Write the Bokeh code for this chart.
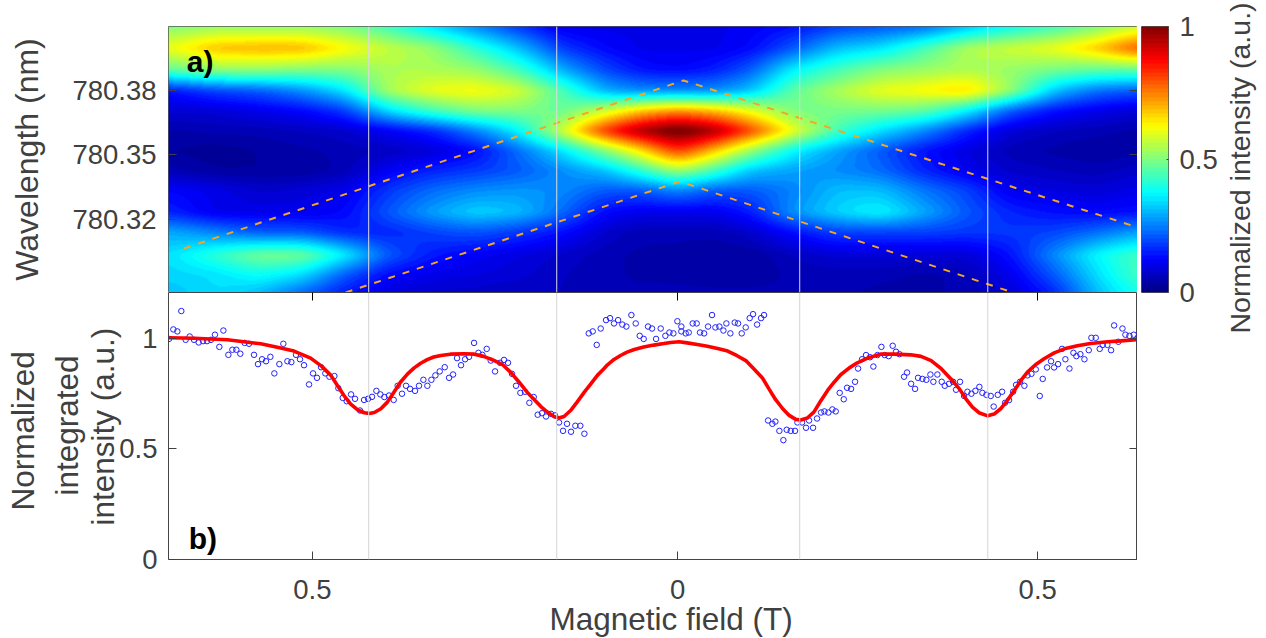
import numpy as np
from bokeh.embed import file_html
from bokeh.resources import INLINE
from bokeh.layouts import column, row
from bokeh.plotting import figure
from bokeh.models import (Label, LinearColorMapper, LinearAxis, FixedTicker, Span, Range1d, Title)

FONT = "Liberation Sans"
TXT = "#404040"

# ---- panel a: intensity
map_field = [-0.703,-0.64,-0.58,-0.52,-0.46,-0.40,-0.34,-0.28,-0.22,-0.16,-0.10,-0.05,0.0,0.05,0.10,0.16,0.22,0.28,0.34,0.40,0.46,0.52,0.58,0.635]
map_wavelength = [780.4098,780.400,780.390,780.380,780.3707,780.3614,780.352,780.3428,780.3335,780.3233,780.314,780.3033,780.294,780.286]
map_r00 = [.48,.50,.50,.50,.48,.42,.33,.25,.17,.10,.10,.10,.10,.10,.11,.13,.18,.20,.22,.30,.37,.42,.48,.55]
map_r01 = [.58,.66,.67,.67,.60,.54,.50,.40,.30,.17,.12,.10,.10,.10,.12,.20,.30,.33,.42,.52,.55,.58,.65,.76]
map_r02 = [.45,.50,.50,.48,.48,.52,.52,.50,.42,.28,.18,.13,.12,.14,.20,.35,.42,.48,.50,.52,.50,.47,.45,.45]
map_r03 = [.13,.18,.20,.25,.33,.52,.58,.60,.56,.43,.28,.25,.25,.25,.30,.45,.52,.58,.60,.64,.50,.30,.22,.20]
map_r04 = [.08,.08,.10,.12,.17,.33,.42,.48,.48,.45,.55,.65,.70,.66,.58,.47,.47,.47,.45,.35,.20,.13,.10,.08]
map_r05 = [.04,.05,.05,.06,.07,.11,.15,.24,.35,.55,.80,.93,1.0,.93,.78,.58,.42,.33,.25,.15,.08,.06,.05,.04]
map_r06 = [.03,.02,.03,.04,.05,.06,.08,.12,.22,.33,.48,.62,.80,.65,.50,.35,.27,.20,.13,.09,.05,.04,.03,.04]
map_r07 = [.05,.03,.03,.03,.05,.11,.15,.17,.20,.25,.30,.40,.52,.42,.30,.27,.25,.22,.15,.10,.07,.06,.05,.07]
map_r08 = [.12,.10,.07,.08,.10,.17,.22,.25,.26,.25,.20,.20,.25,.20,.20,.24,.30,.30,.23,.18,.10,.09,.08,.10]
map_r09 = [.15,.10,.10,.10,.12,.20,.27,.32,.30,.22,.12,.10,.10,.10,.14,.26,.32,.36,.28,.20,.15,.13,.12,.13]
map_r10 = [.28,.24,.20,.20,.15,.15,.18,.20,.17,.13,.07,.05,.05,.05,.07,.13,.18,.18,.18,.17,.17,.18,.22,.27]
map_r11 = [.33,.40,.47,.47,.35,.20,.14,.11,.09,.07,.05,.04,.04,.03,.03,.06,.08,.08,.08,.08,.13,.25,.36,.42]
map_r12 = [.32,.33,.37,.33,.20,.12,.10,.09,.08,.06,.05,.04,.04,.03,.03,.05,.05,.05,.04,.05,.10,.20,.33,.42]
map_r13 = [.30,.33,.30,.22,.14,.09,.07,.07,.06,.06,.05,.05,.05,.05,.05,.05,.05,.04,.04,.05,.08,.15,.30,.38]
map_rows = [map_r00,map_r01,map_r02,map_r03,map_r04,map_r05,map_r06,map_r07,map_r08,map_r09,map_r10,map_r11,map_r12,map_r13]

# dashed guide lines
upper_field = [-0.682, 0.008, 0.635]
upper_wavelength = [780.3065, 780.3847, 780.3163]
lower_field = [-0.4586, 0.003, 0.4627]
lower_wavelength = [780.286, 780.3377, 780.286]

# resonance markers
marker_field = [-0.4268, -0.1671, 0.1685, 0.4282]

# ---- panel b
points_field = [
-.7026,-.6966,-.6911,-.6856,-.6796,-.6740,-.6681,-.6616,-.6556,-.6501,-.6446,-.6391,-.6331,-.6275,-.6206,-.6151,-.6096,-.6041,-.5981,-.5921,
-.5852,-.5797,-.5741,-.5686,-.5626,-.5571,-.5502,-.5447,-.5391,-.5336,-.5272,-.5217,-.5161,-.5092,-.5037,-.4982,-.4926,-.4867,-.4811,-.4742,
-.4687,-.4627,-.4572,-.4512,-.4457,-.4388,-.4332,-.4277,-.4222,-.4162,-.4107,-.4052,-.3987,-.3923,-.3868,-.3808,-.3752,-.3697,-.3628,-.3573,
-.3513,-.3458,-.3402,-.3347,-.3287,-.3218,-.3158,-.3103,-.3048,-.2993,-.2937,-.2882,-.2813,-.2753,-.2698,-.2638,-.2583,-.2523,-.2454,-.2399,
-.2344,-.2289,-.2233,-.2173,-.2109,-.2049,-.1989,-.1934,-.1874,-.1819,-.1750,-.1695,-.1639,-.1584,-.1529,-.1474,-.1414,-.1345,-.1289,
-.1229,-.1174,-.1119,-.1064,-.0990,-.0935,-.0880,-.0824,-.0765,-.0709,-.0640,-.0580,-.0525,-.0470,-.0410,-.0355,-.0299,-.0235,
-.0171,-.0115,-.0060,-.0005,.0050,.0050,.0110,.0152,.0207,.0262,.0308,.0364,.0419,.0474,.0520,.0575,.0631,.0672,.0727,.0787,
.0833,.0884,.0939,.0994,.1040,.1096,.1151,.1192,.1248,.1307,.1349,.1404,.1459,.1505,.1561,.1620,.1653,.1717,.1772,.1814,
.1869,.1924,.1980,.2026,.2081,.2136,.2182,.2237,.2293,.2339,.2394,.2449,.2491,.2546,.2601,.2656,.2702,.2758,.2813,.2859,
.2914,.2969,.3015,.3062,.3126,.3167,.3223,.3278,.3319,.3379,.3434,.3490,.3531,.3586,.3646,.3688,.3747,.3803,.3844,.3899,
.3955,.4001,.4056,.4111,.4166,.4208,.4263,.4323,.4364,.4420,.4480,.4521,.4576,.4632,.4673,.4728,.4788,.4830,.4885,.4945,
.5000,.5041,.5101,.5156,.5198,.5253,.5308,.5354,.5410,.5465,.5506,.5561,.5617,.5677,.5713,.5773,.5828,.5870,.5934,.5985,
.6027,.6086,.6142,.6183,.6238,.6298,.6353]
intensity_points = [
.998,1.041,1.032,1.124,.994,1.009,.994,.982,.988,.988,.994,1.017,.962,1.036,.926,.949,.949,.931,.980,.976,
.926,.884,.906,.897,.917,.842,.884,.976,.897,.893,.926,.906,.879,.792,.842,.822,.870,.842,.827,.830,
.775,.731,.716,.747,.727,.674,.722,.727,.736,.763,.747,.735,.742,.722,.786,.750,.786,.772,.763,.786,
.813,.786,.813,.833,.851,.870,.822,.837,.911,.879,.906,.917,.980,.935,.926,.953,.900,.851,.890,.903,
.890,.840,.786,.754,.759,.709,.735,.655,.662,.647,.659,.652,.620,.582,.614,.578,.605,.605,.569,
1.023,1.032,.971,1.045,1.083,1.092,1.068,1.083,1.063,1.054,1.106,1.068,1.012,.998,1.054,1.045,.998,1.045,
1.012,1.027,1.023,1.078,1.054,1.032,1.023,1.027,1.068,1.068,1.027,1.023,1.054,1.106,1.050,1.054,1.036,1.068,1.023,1.072,
1.068,1.023,1.050,1.092,1.110,1.063,1.092,1.106,.629,.614,.624,.582,.540,.587,.582,.582,.620,.620,.596,.629,
.596,.638,.665,.670,.665,.679,.670,.754,.725,.777,.772,.804,.864,.906,.925,.915,.873,.925,.962,.925,
.920,.967,.940,.929,.827,.846,.795,.772,.822,.817,.813,.837,.804,.837,.804,.786,.795,.804,.768,.804,
.740,.759,.750,.763,.781,.754,.745,.740,.692,.745,.759,.709,.721,.759,.790,.804,.786,.833,.840,.860,
.740,.817,.869,.897,.869,.884,.953,.906,.864,.935,.920,.929,.906,.947,1.003,1.003,.953,.971,.971,.947,
1.059,.985,1.045,1.017,1.012,1.017,1.003]

fit_field = [-.703,-.668,-.622,-.576,-.553,-.530,-.507,-.492,-.479,-.470,-.461,-.452,-.442,-.433,-.426,-.419,-.410,-.401,-.392,-.383,
-.373,-.364,-.355,-.346,-.337,-.327,-.314,-.295,-.281,-.268,-.254,-.242,-.231,-.219,-.208,-.198,-.189,-.180,-.171,-.164,
-.157,-.148,-.139,-.129,-.120,-.111,-.102,-.097,-.088,-.079,-.070,-.060,-.047,-.033,-.019,-.010,.002,.013,.027,.041,
.055,.069,.082,.094,.105,.117,.126,.135,.145,.154,.163,.170,.179,.188,.197,.207,.216,.225,.237,.248,
.262,.280,.299,.322,.336,.350,.363,.377,.389,.398,.407,.416,.428,.437,.446,.455,.465,.474,.483,.494,
.506,.520,.534,.552,.570,.594,.612,.633]
fit_intensity = [1.003,1.001,.994,.976,.960,.943,.911,.875,.833,.787,.742,.704,.677,.664,.661,.665,.682,.712,.757,.802,
.840,.867,.888,.904,.916,.923,.929,.931,.929,.919,.901,.882,.848,.802,.757,.723,.692,.667,.647,.640,
.647,.674,.712,.757,.795,.833,.863,.881,.905,.923,.938,.950,.961,.970,.977,.982,.985,.980,.973,.965,
.955,.943,.922,.900,.863,.821,.772,.724,.682,.652,.634,.631,.640,.667,.715,.765,.802,.836,.867,.890,
.911,.929,.929,.926,.919,.900,.866,.818,.772,.727,.689,.664,.650,.658,.682,.719,.765,.810,.848,.881,
.908,.935,.953,.967,.977,.985,.989,.994]

def jet(n=64):
    out = []
    for i in range(n):
        v = (i + 0.5) / n
        r = np.clip(min(4 * v - 1.5, -4 * v + 4.5), 0, 1)
        g = np.clip(min(4 * v - 0.5, -4 * v + 3.5), 0, 1)
        b = np.clip(min(4 * v + 0.5, -4 * v + 2.5), 0, 1)
        out.append("#%02x%02x%02x" % (int(r * 255), int(g * 255), int(b * 255)))
    return out

mapper = LinearColorMapper(palette=jet(), low=0, high=1)

X0, X1 = -0.7033, 0.635
Y0, Y1 = 780.286, 780.4098
Y2MAX = 1.208

# upsample the read grid for display (interp shading, lightly softened)
grid = np.array(map_rows)
wl = np.array(map_wavelength)
fx = np.array(map_field)
nx, ny = 969, 266
xq = np.linspace(X0, X1, nx)
yq = np.linspace(Y0, Y1, ny)
tmp = np.array([np.interp(xq, fx, r) for r in grid])
img = np.array([np.interp(yq, wl[::-1], tmp[::-1, j]) for j in range(nx)]).T

def soften(a, sigma, axis):
    r = int(3 * sigma)
    k = np.exp(-0.5 * (np.arange(-r, r + 1) / sigma) ** 2)
    k /= k.sum()
    pad = [(0, 0), (0, 0)]
    pad[axis] = (r, r)
    b = np.pad(a, pad, mode="edge")
    return np.apply_along_axis(lambda m: np.convolve(m, k, mode="valid"), axis, b)

img = soften(img, 10, 1)
img = soften(img, 3, 0)
img = np.clip(img / img.max(), 0, 1)

def style_font(ax, size):
    ax.major_label_text_font = FONT
    ax.major_label_text_font_size = size
    ax.major_label_text_color = TXT
    ax.axis_line_color = None
    ax.minor_tick_line_color = None
    ax.major_tick_in = 8
    ax.major_tick_out = 0
    ax.major_tick_line_color = "#404040"

def no_labels(ax):
    ax.major_label_text_font_size = "0px"
    ax.major_label_text_color = None

x_ticks = [-0.5046, 0.0, 0.4972]
x_tick_labels = {-0.5046: "0.5", 0.0: "0", 0.4972: "0.5"}

# --- top panel
p1 = figure(width=1137, height=292, x_range=Range1d(X0, X1), y_range=Range1d(Y0, Y1),
            output_backend="svg", toolbar_location=None,
            min_border_left=168, min_border_right=0, min_border_top=26, min_border_bottom=0,
            x_axis_location=None)
p1.grid.visible = False
p1.outline_line_color = "#555555"
p1.image(image=[img], x=X0, y=Y0, dw=X1 - X0, dh=Y1 - Y0, color_mapper=mapper)
for f in marker_field:
    p1.add_layout(Span(location=f, dimension="height", line_color="#dcdcdc", line_width=1))
p1.line(upper_field, upper_wavelength, line_color="#f5a623", line_width=2, line_dash="7 8")
p1.line(lower_field, lower_wavelength, line_color="#f5a623", line_width=2, line_dash="7 8")
ya = p1.yaxis[0]
ya.ticker = FixedTicker(ticks=[780.32, 780.35, 780.38])
style_font(ya, "27.5px")
ya.major_label_overrides = {780.32: "780.32", 780.35: "780.35", 780.38: "780.38"}
ya.major_label_standoff = 12
ya.axis_label = "Wavelength (nm)"
ya.axis_label_text_font = FONT
ya.axis_label_text_font_size = "32px"
ya.axis_label_text_font_style = "normal"
ya.axis_label_text_color = TXT
ya.axis_label_standoff = 24
ra = LinearAxis(ticker=FixedTicker(ticks=[780.32, 780.35, 780.38]))
style_font(ra, "1px"); no_labels(ra)
p1.add_layout(ra, "right")
p1.min_border_right = 0
p1.add_layout(Label(x=-0.678, y=780.3935, text="a)", text_font=FONT, text_font_style="bold",
                    text_font_size="30px", text_color="black", text_baseline="alphabetic"))

# --- bottom panel
p2 = figure(width=1137, height=346, x_range=p1.x_range, y_range=Range1d(0, Y2MAX),
            output_backend="svg", toolbar_location=None,
            min_border_left=168, min_border_right=0, min_border_top=0, min_border_bottom=79)
p2.grid.visible = False
p2.outline_line_color = "#444444"
for f in marker_field:
    p2.add_layout(Span(location=f, dimension="height", line_color="#d4d4d4", line_width=1))
p2.scatter(points_field, intensity_points, marker="circle", size=5.5, fill_color=None,
           line_color="#2222ff", line_width=1)
p2.line(fit_field, fit_intensity, line_color="#ff0000", line_width=3.6)

xa = p2.xaxis[0]
xa.ticker = FixedTicker(ticks=x_ticks)
xa.major_label_overrides = x_tick_labels
style_font(xa, "27.5px")
xa.major_label_standoff = 20
ya2 = p2.yaxis[0]
ya2.ticker = FixedTicker(ticks=[0, 0.5, 1])
ya2.major_label_overrides = {0: "0", 0.5: "0.5", 1: "1"}
style_font(ya2, "27.5px")
ya2.major_label_standoff = 11
ta = LinearAxis(ticker=FixedTicker(ticks=x_ticks))
style_font(ta, "1px"); no_labels(ta)
ta.major_tick_line_color = "black"
p2.add_layout(ta, "above")
ra2 = LinearAxis(ticker=FixedTicker(ticks=[0, 0.5, 1]))
style_font(ra2, "1px"); no_labels(ra2)
p2.add_layout(ra2, "right")
p2.min_border_right = 0
p2.min_border_top = 0
p2.add_layout(Label(x=-0.6754, y=0.095, text="b)", text_font=FONT, text_font_style="bold",
                    text_font_size="30px", text_color="black", text_baseline="alphabetic"))
for line, off, so in [("intensity (a.u.)", 34, -9), ("integrated", 64, 6), ("Normalized", 49, 5)]:
    p2.add_layout(Title(text=line, align="left", offset=off, standoff=so, text_font=FONT,
                        text_font_size="31.5px", text_font_style="normal", text_color=TXT), "left")
p2.add_layout(Title(text="Magnetic field (T)", align="left", offset=381, standoff=-6, text_font=FONT,
                    text_font_size="31.5px", text_font_style="normal", text_color=TXT), "below")

# --- colour bar
p3 = figure(width=83, height=638, x_range=Range1d(0, 1), y_range=Range1d(0, 1),
            output_backend="svg", toolbar_location=None, y_axis_location="right", x_axis_location=None,
            min_border_left=4, min_border_right=51, min_border_top=26, min_border_bottom=346)
p3.grid.visible = False
p3.outline_line_color = "#555555"
p3.image(image=[np.linspace(0, 1, 256).reshape(-1, 1)], x=0, y=0, dw=1, dh=1, color_mapper=mapper)
ca = p3.yaxis[0]
ca.ticker = FixedTicker(ticks=[0, 0.5, 1])
ca.major_label_overrides = {0: "0", 0.5: "0.5", 1: "1"}
style_font(ca, "27.5px")
ca.major_tick_in = 2
ca.major_tick_out = 0
ca.major_label_standoff = 11

# --- colour bar title: a side title of a slim figure; its frame is aligned with the colour bar's,
# so the title starts below that frame's bottom edge
p4 = figure(width=46, height=638, x_range=Range1d(0, 1), y_range=Range1d(0, 1),
            output_backend="svg", toolbar_location=None, x_axis_location=None, y_axis_location=None,
            min_border_left=36, min_border_right=0, min_border_top=26, min_border_bottom=346)
p4.grid.visible = False
p4.outline_line_color = None
p4.add_layout(Title(text="Normalized intensity (a.u.)", align="left", offset=-41, standoff=2, text_font=FONT,
                    text_font_size="28.5px", text_font_style="normal", text_color=TXT), "left")

layout = row(column(p1, p2, spacing=0), p3, p4, spacing=0)
open("out.html", "w").write(file_html(layout, INLINE))
